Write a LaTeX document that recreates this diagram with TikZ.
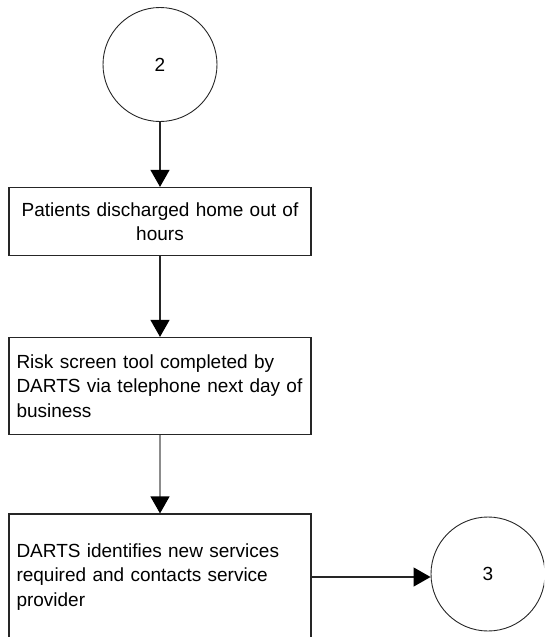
\documentclass[tikz,border=0pt]{standalone}
\usepackage{fontspec}
\setmainfont{Liberation Sans}
\usetikzlibrary{arrows.meta}
\begin{document}
\begin{tikzpicture}[x=1pt,y=-1pt,
    font=\fontsize{19}{24.5}\selectfont,
    stepbox/.style={draw=black!85, line width=1.2pt, minimum width=302pt, inner xsep=7pt, text width=287pt},
    connector/.style={draw=black!85, circle, line width=0.9pt, minimum size=114pt, inner sep=0pt},
    flow/.style={line width=1.2pt, draw=black!85, -{Triangle[width=19pt,length=17pt,color=black]}}]
      \useasboundingbox (0,0) rectangle (544,637);
      \clip (0,0) rectangle (544,637);
      \node (c2) at (160,64.5) [connector] {2};
      \node (patients) at (160,221.5) [stepbox, minimum height=68pt, align=center] {Patients discharged home out of\\ hours};
      \node (risk) at (160,386) [stepbox, minimum height=97pt, align=left] {Risk screen tool completed by\\ DARTS via telephone next day of\\ business};
      \node (darts) at (160,577) [stepbox, minimum height=126pt, align=left] {DARTS identifies new services\\ required and contacts service\\ provider};
      \node (c3) at (488,574) [connector] {3};
      \draw[flow] (c2) -- (patients);
      \draw[flow] (patients) -- (risk);
      \draw[flow, draw=black!45, line width=1.5pt] (risk) -- (darts);
      \draw[flow] (darts.east) -- (darts.east -| c3.west);
    \end{tikzpicture}
\end{document}
